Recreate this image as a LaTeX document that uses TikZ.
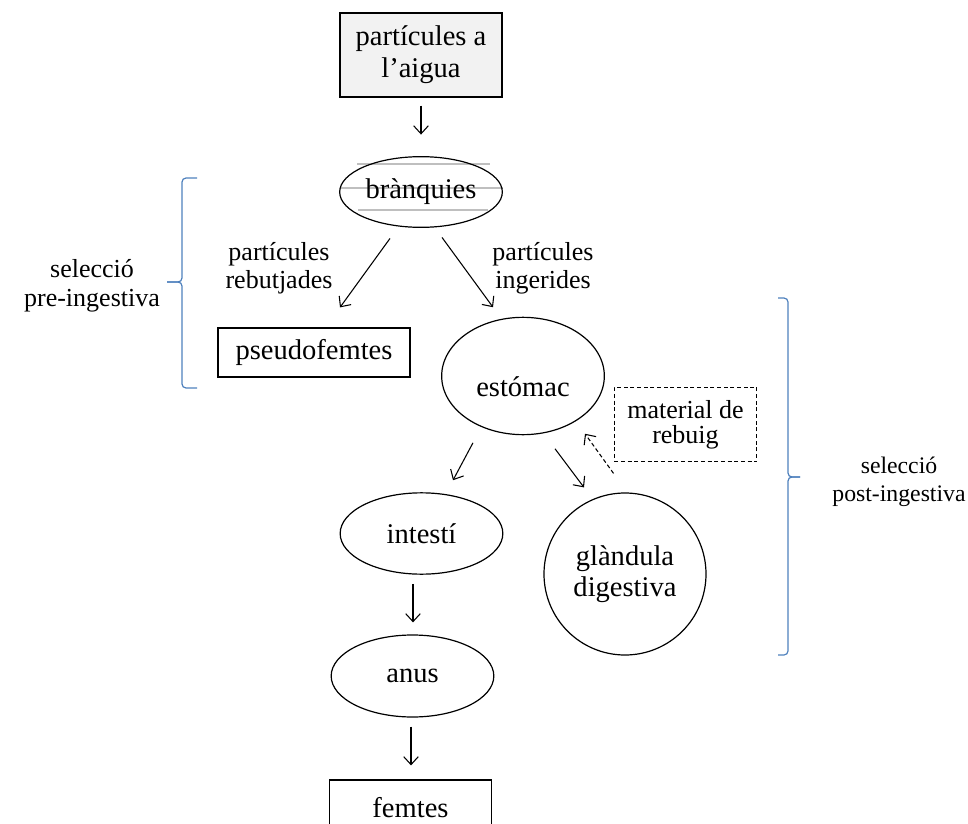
\documentclass[tikz,border=0pt]{standalone}
\usepackage{fontspec}
\setmainfont{Liberation Serif}
\usetikzlibrary{shapes.geometric,arrows.meta}
\definecolor{braceblue}{HTML}{4F81BD}
\definecolor{boxgray}{HTML}{F2F2F2}
\definecolor{linegray}{HTML}{BFBFBF}
\begin{document}
\begin{tikzpicture}[x=0.75pt,y=-0.75pt,
  every node/.style={font=\fontsize{21.4}{24}\selectfont, align=center},
  rbox/.style={draw, line width=0.9pt, rectangle, inner sep=0pt},
  ell/.style={draw, line width=0.9pt, ellipse, inner sep=0pt},
  arr/.style={line width=0.8pt, -{Straight Barb[length=6pt,width=11pt]}},
  dasharr/.style={arr, dash pattern=on 3pt off 2pt},
  lbl/.style={font=\fontsize{19.5}{21}\selectfont},
  bracepath/.style={draw=braceblue, line width=0.9pt, rounded corners=3pt},
  grayline/.style={draw=linegray, line width=0.8pt}]
\useasboundingbox (0,0) rectangle (968,824);

% nodes
\node[rbox, fill=boxgray, minimum width=121.5pt, minimum height=63pt] (top) at (421,55) {partícules a\\l’aigua};

\draw[grayline] (357,164) -- (490,164);
\draw[grayline] (340,188) -- (503,188);
\draw[grayline] (358,210) -- (488,210);
\node[ell, minimum width=122pt, minimum height=53pt] (branq) at (421,192) {brànquies};

\node[rbox, minimum width=144pt, minimum height=36.75pt] (pseudo) at (314,352.5) {pseudofemtes};

\node[ell, minimum width=122pt, minimum height=88pt] (est) at (523,376) {};
\node (estt) at (523,387) {estómac};

\node[rbox, dash pattern=on 3pt off 2pt, minimum width=107pt, minimum height=56pt, lbl, font=\fontsize{19.5}{19}\selectfont] (mat) at (685.5,424.5) {material de\\rebuig};

\node[ell, minimum width=122pt, minimum height=61pt] (int) at (421.5,533.5) {intestí};

\node[draw, line width=0.9pt, circle, inner sep=0pt, minimum size=121.5pt, font=\fontsize{21.4}{23}\selectfont] (gland) at (625,574) {glàndula\\digestiva};

\node[ell, minimum width=122pt, minimum height=61.5pt] (anus) at (412.5,676) {anus};

\node[rbox, minimum width=122pt, minimum height=42pt] (fem) at (410.5,808) {femtes};

% labels
\node[lbl] (lrej) at (279,268) {partícules\\rebutjades};
\node[lbl] (ling) at (543,268) {partícules\\ingerides};
\node[lbl, font=\fontsize{19.5}{22}\selectfont] (presel) at (92,286) {selecció\\pre-ingestiva};
\node[lbl, font=\fontsize{17.8}{21}\selectfont] (postsel) at (899,482) {selecció\\post-ingestiva};

% arrows
\draw[arr] ([shift={(0,8)}]top.south) -- ([shift={(0,-21.5)}]branq.north);
\draw[arr] ([shift={(-31,10.5)}]branq.south) -- ([shift={(26,-20)}]pseudo.north);
\draw[arr] ([shift={(21,9.5)}]branq.south) -- ([shift={(-30,-9.5)}]est.north);
\draw[arr] ([shift={(-50,7.5)}]est.south) -- ([shift={(31.5,-12)}]int.north);
\draw[arr] ([shift={(32,13.5)}]est.south) -- ([shift={(-41,-5)}]gland.north);
\draw[dasharr] ([shift={(0,11)}]mat.south west) -- ([shift={(62,-1.5)}]est.south);
\draw[arr] ([shift={(-8.5,9)}]int.south) -- ([shift={(0.5,-12)}]anus.north);
\draw[arr] ([shift={(-1.5,9)}]anus.south) -- ([shift={(0.5,-14)}]fem.north);

% braces
\draw[bracepath] (197,178) -| (182,282) -- (167,282);
\draw[bracepath] (167,282) -- (182,282) |- (197,388);
\draw[bracepath] (778,298) -| (788,477) -- (800,477);
\draw[bracepath] (800,477) -- (788,477) |- (778,655);
\end{tikzpicture}
\end{document}
